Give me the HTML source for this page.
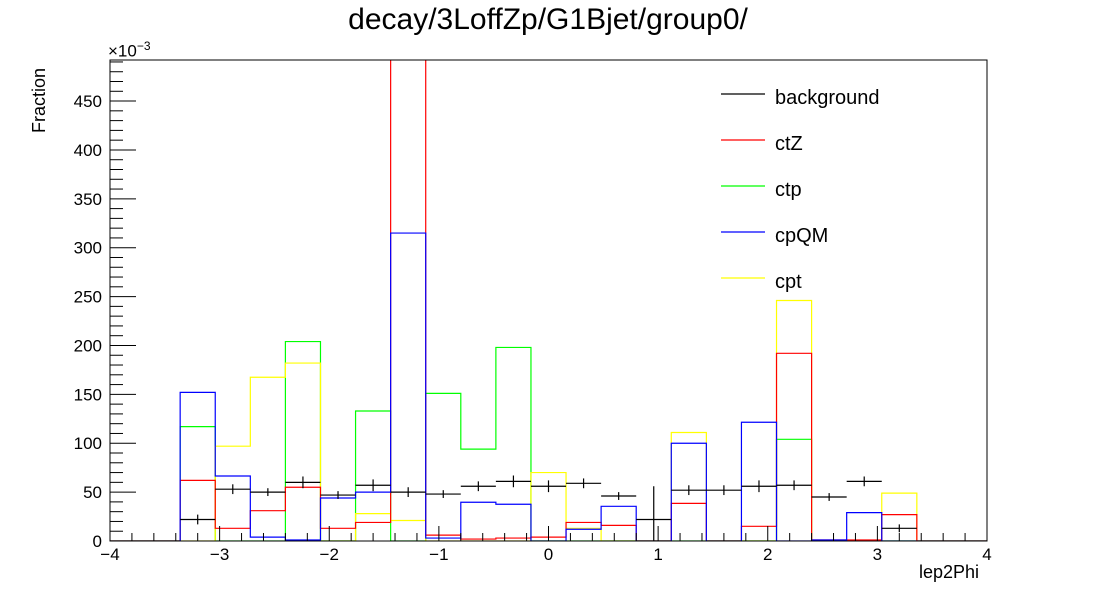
<!DOCTYPE html>
<html><head><meta charset="utf-8"><style>
body{margin:0;background:#fff;width:1096px;height:600px;overflow:hidden;font-family:"Liberation Sans",Arial,sans-serif}
</style></head><body>
<svg id="c" width="1096" height="600" xmlns="http://www.w3.org/2000/svg" font-family="Liberation Sans, Arial, sans-serif"></svg>
<script>
const binLo=-4, binHi=4;
const bkg=[0,0,22,53,50,60,47,57,50,48,56,61,56,59,46,22,52,52,56,57,45,61,13,0,0];
const bkgErr=[0,0,5,5,4,6,4,6,5,4,5,6,6,5,4,34,5,5,6,5,4,5,4,0,0];
const ctZ=[0,0,62,13,31,55,13,19,600,6,2,3,4,19,16,0,38.5,0,15,192,1,1,27,0,0];
const ctp=[0,0,117,0,0,204,0,133,0,151,94,198,0,0,0,0,0,0,0,104,0,0,0,0,0];
const cpQM=[0,0,152,66.5,4,1,44,50,315,3,39.6,37.6,0,12,35.5,0,100,0,121.5,0,1,29,0,0,0];
const cpt=[0,0,0,97,167.5,182,0,28,21,0,0,0,70,13,0,0,111,0,0,246,0,0,49,0,0];
const xTicks=[-4,-3,-2,-1,0,1,2,3,4];
const yTicks=[0,50,100,150,200,250,300,350,400,450];
const NS='http://www.w3.org/2000/svg';
const svg=document.getElementById('c');
const L=110,R=987,T=60,B=541,YMAX=492;
const nb=bkg.length;
function X(v){return L+(v-binLo)/(binHi-binLo)*(R-L);}
function Y(v){return B-Math.min(v,YMAX+5)/YMAX*(B-T);}
function el(t,a){const e=document.createElementNS(NS,t);for(const k in a)e.setAttribute(k,a[k]);svg.appendChild(e);return e;}
function edge(i){return binLo+i*(binHi-binLo)/nb;}
const defs=el('defs',{});
const cp=document.createElementNS(NS,'clipPath');cp.setAttribute('id','cl');
const cr=document.createElementNS(NS,'rect');cr.setAttribute('x',L);cr.setAttribute('y',T);cr.setAttribute('width',R-L);cr.setAttribute('height',B-T);
cp.appendChild(cr);defs.appendChild(cp);
function hist(arr,color,name){
  let d='M'+X(binLo)+','+Y(0);
  for(let i=0;i<nb;i++){d+=' L'+X(edge(i))+','+Y(arr[i])+' L'+X(edge(i+1))+','+Y(arr[i]);}
  d+=' L'+X(binHi)+','+Y(0);
  const p=el('path',{d:d,fill:'none',stroke:color,'stroke-width':1.2,'clip-path':'url(#cl)'});
  
  
}
hist(ctp,'#00ff00','ctp-histogram');
hist(cpt,'#ffff00','cpt-histogram');
hist(ctZ,'#ff0000','ctz-histogram');
hist(cpQM,'#0000ff','cpqm-histogram');
for(let i=0;i<nb;i++){
  if(bkg[i]<=0)continue;
  const x0=X(edge(i)),x1=X(edge(i+1)),xc=(x0+x1)/2,y=Y(bkg[i]);
  const h=el('line',{x1:x0,x2:x1,y1:y,y2:y,stroke:'#000','stroke-width':1.2});
  
  
  const v=el('line',{x1:xc,x2:xc,y1:Y(bkg[i]+bkgErr[i]),y2:Y(Math.max(0,bkg[i]-bkgErr[i])),stroke:'#000','stroke-width':1.2});
  
  
}
const fr=el('rect',{x:L,y:T,width:R-L,height:B-T,fill:'none',stroke:'#000','stroke-width':1});


for(let v=-4;v<=4.001;v+=0.2){
  const major=Math.abs(v-Math.round(v))<1e-6;
  el('line',{x1:X(v),x2:X(v),y1:B,y2:B-(major?15:8),stroke:'#000','stroke-width':1});
}
xTicks.forEach(v=>{
  const t=el('text',{x:X(v),y:560,'font-size':17,'text-anchor':'middle',fill:'#000'});
  t.textContent=v<0?'\u2212'+Math.abs(v):String(v);
  
  
});
for(let v=0;v<=YMAX;v+=10){
  const major=v%50===0;
  el('line',{x1:L,x2:L+(major?26:13),y1:Y(v),y2:Y(v),stroke:'#000','stroke-width':1});
}
yTicks.forEach(v=>{
  const t=el('text',{x:102,y:Y(v)+6,'font-size':17,'text-anchor':'end',fill:'#000'});
  t.textContent=String(v);
  
  
});
const legNames=['background','ctZ','ctp','cpQM','cpt'];
const legColors=['#000','#ff0000','#00ff00','#0000ff','#ffff00'];
legNames.forEach((n,i)=>{
  const y=94+i*46;
  const l=el('line',{x1:721,x2:765,y1:y,y2:y,stroke:legColors[i],'stroke-width':1.2});
  
  
  const t=el('text',{x:775,y:y+10,'font-size':20,fill:'#000'});
  t.textContent=n;
  
  
});
</script>
<div style="position:absolute;left:0;top:3px;width:1096px;text-align:center;font-size:30px">decay/3LoffZp/G1Bjet/group0/</div>
<div style="position:absolute;left:108px;top:39px;font-size:17px">×10<sup style="font-size:12px">−3</sup></div>
<div style="position:absolute;left:29px;top:133px;font-size:18px;transform:rotate(-90deg);transform-origin:left top">Fraction</div>
<div style="position:absolute;left:919px;top:562px;font-size:18px">lep2Phi</div>
</body></html>
